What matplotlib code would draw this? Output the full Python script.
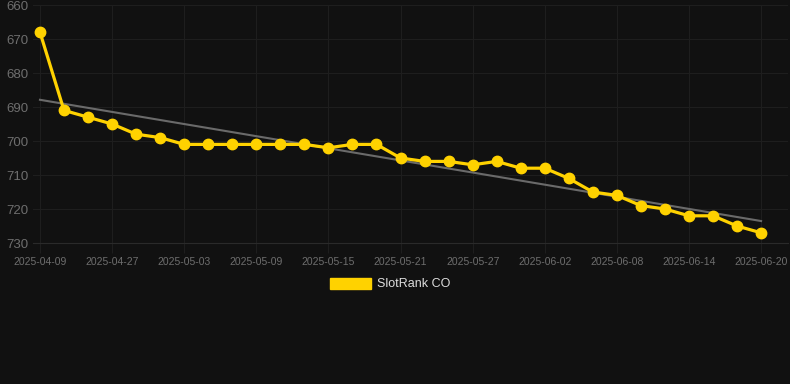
import numpy as np
import matplotlib.pyplot as plt
from matplotlib.patches import Patch

dates = ['2025-04-09', '2025-04-23', '2025-04-25', '2025-04-27', '2025-04-29', '2025-05-01',
         '2025-05-03', '2025-05-05', '2025-05-07', '2025-05-09', '2025-05-11', '2025-05-13',
         '2025-05-15', '2025-05-17', '2025-05-19', '2025-05-21', '2025-05-23', '2025-05-25',
         '2025-05-27', '2025-05-29', '2025-05-31', '2025-06-02', '2025-06-04', '2025-06-06',
         '2025-06-08', '2025-06-10', '2025-06-12', '2025-06-14', '2025-06-16', '2025-06-18',
         '2025-06-20']
rank = [668, 691, 693, 695, 698, 699, 701, 701, 701, 701, 701, 701, 702, 701, 701, 705,
        706, 706, 707, 706, 708, 708, 711, 715, 716, 719, 720, 722, 722, 725, 727]

bg = '#111111'
gold = '#FFD200'
grid_c = '#1e1e1e'
tick_c = '#6e6e6e'

plt.rcParams['font.family'] = ['Liberation Sans', 'DejaVu Sans']

fig = plt.figure(figsize=(7.9, 3.84), dpi=100, facecolor=bg)
ax = fig.add_axes([33/790, 1-243/384, 755/790, 238/384], facecolor=bg)

x = np.arange(len(rank))
# trend line (least squares)
k, b = np.polyfit(x, rank, 1)
ax.plot(x, k*x + b, color='#6a6a6a', lw=1.5, zorder=2)
ax.plot(x, rank, color=gold, lw=2.3, marker='o', ms=7.5, zorder=3)

ax.set_ylim(730, 660)
ax.set_xlim(-0.29, 31.12)
ax.set_yticks(range(660, 731, 10))
ax.set_xticks(x[::3])
ax.set_xticklabels(dates[::3])
ax.grid(True, color=grid_c, lw=0.8)
for s in ax.spines.values():
    s.set_visible(False)
ax.spines['bottom'].set_visible(True)
ax.spines['bottom'].set_color('#2a2a2a')
ax.spines['bottom'].set_linewidth(0.8)
ax.tick_params(axis='y', length=0, pad=3, labelsize=9.5, labelcolor=tick_c)
ax.tick_params(axis='x', length=7, width=0.8, color=grid_c, pad=3, labelsize=7.5, labelcolor=tick_c)

fig.legend(handles=[Patch(facecolor=gold, edgecolor=gold)], labels=['SlotRank CO'],
           loc='center', bbox_to_anchor=(390/790, 1-284/384), frameon=False,
           handlelength=3.3, handleheight=1.0, handletextpad=0.5,
           fontsize=9, labelcolor='#dddddd')

fig.savefig('out.png', dpi=100, facecolor=bg)
